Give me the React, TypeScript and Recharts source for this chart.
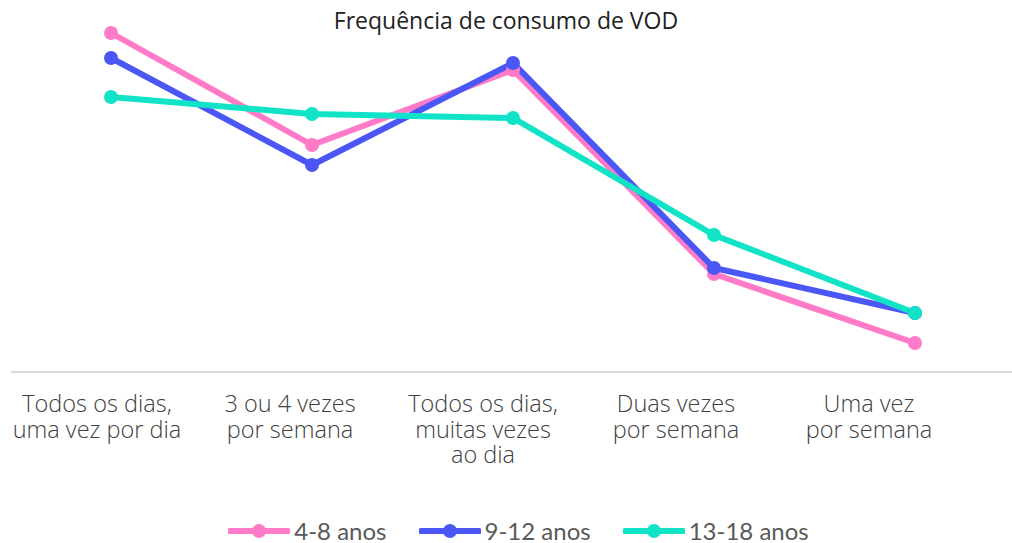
import React from "react";
import { LineChart, Line, XAxis, YAxis, Legend } from "recharts";

const categories = [
  "Todos os dias,\numa vez por dia",
  "3 ou 4 vezes\npor semana",
  "Todos os dias,\nmuitas vezes\nao dia",
  "Duas vezes\npor semana",
  "Uma vez\npor semana",
];
const serie48 = [33.9, 22.7, 30.2, 9.8, 2.9];
const serie912 = [31.4, 20.7, 30.9, 10.4, 5.9];
const serie1318 = [27.5, 25.8, 25.4, 13.7, 5.9];

const seriesNames = ["4-8 anos", "9-12 anos", "13-18 anos"];
const colors = ["#FF7BC8", "#4B57F5", "#10E3C6"];

const data = categories.map((c, i) => ({
  cat: c,
  a: serie48[i],
  b: serie912[i],
  c: serie1318[i],
}));

const CatTick = (props: any) => {
  const { x, y, payload } = props;
  const lines = String(payload.value).split("\n");
  return (
    <text
      x={x}
      y={y + 31}
      textAnchor="middle"
      fill="#404040"
      fontFamily="'Open Sans', sans-serif"
      fontWeight={300}
      fontSize={23.5}
    >
      {lines.map((l, i) => (
        <tspan key={i} x={x} dy={i === 0 ? 0 : 25.5}>
          {l}
        </tspan>
      ))}
    </text>
  );
};

const LegendContent = () => (
  <div
    style={{
      display: "flex",
      justifyContent: "center",
      alignItems: "center",
      paddingLeft: 25,
      fontFamily: "Lato, sans-serif",
      fontSize: 24,
      color: "#595959",
    }}
  >
    {seriesNames.map((n, i) => (
      <div
        key={n}
        style={{ display: "flex", alignItems: "center", marginRight: i < 2 ? 32 : 0 }}
      >
        <svg width={62} height={16} style={{ marginRight: 4 }}>
          <line x1={2} y1={8} x2={60} y2={8} stroke={colors[i]} strokeWidth={6} strokeLinecap="round" />
          <circle cx={31} cy={8} r={7} fill={colors[i]} />
        </svg>
        <span>{n}</span>
      </div>
    ))}
  </div>
);

export default function App() {
  return (
    <div style={{ position: "absolute", left: 0, top: 0, width: 1012, height: 543, background: "#fff" }}>
      <div
        style={{
          position: "absolute",
          top: 4,
          left: 0,
          width: 1012,
          textAlign: "center",
          fontFamily: "'Open Sans', sans-serif",
          fontSize: 23,
          color: "#222",
          zIndex: 2,
        }}
      >
        Frequência de consumo de VOD
      </div>
      <LineChart
        width={1012}
        height={543}
        data={data}
        margin={{ top: 22, right: -3, left: 11, bottom: 0 }}
      >
        <XAxis
          dataKey="cat"
          axisLine={{ stroke: "#d9d9d9", strokeWidth: 2 }}
          tickLine={false}
          tick={false}
          interval={0}
          height={1}
          padding={{ left: 100, right: 100 }}
        />
        <XAxis
          xAxisId="lbl"
          dataKey="cat"
          axisLine={false}
          tickLine={false}
          interval={0}
          height={130}
          padding={{ left: 86, right: 146 }}
          tick={<CatTick />}
        />
        <YAxis hide domain={[0, 35]} />
        <Legend
          verticalAlign="bottom"
          height={40}
          content={<LegendContent />}
          wrapperStyle={{ top: 516, left: 0, width: 1012 }}
        />
        <Line dataKey="a" name={seriesNames[0]} stroke={colors[0]} strokeWidth={6} dot={{ r: 7, fill: colors[0], stroke: colors[0], strokeWidth: 0 }} activeDot={false} isAnimationActive={false} />
        <Line dataKey="b" name={seriesNames[1]} stroke={colors[1]} strokeWidth={6} dot={{ r: 7, fill: colors[1], stroke: colors[1], strokeWidth: 0 }} activeDot={false} isAnimationActive={false} />
        <Line dataKey="c" name={seriesNames[2]} stroke={colors[2]} strokeWidth={6} dot={{ r: 7, fill: colors[2], stroke: colors[2], strokeWidth: 0 }} activeDot={false} isAnimationActive={false} />
      </LineChart>
    </div>
  );
}
